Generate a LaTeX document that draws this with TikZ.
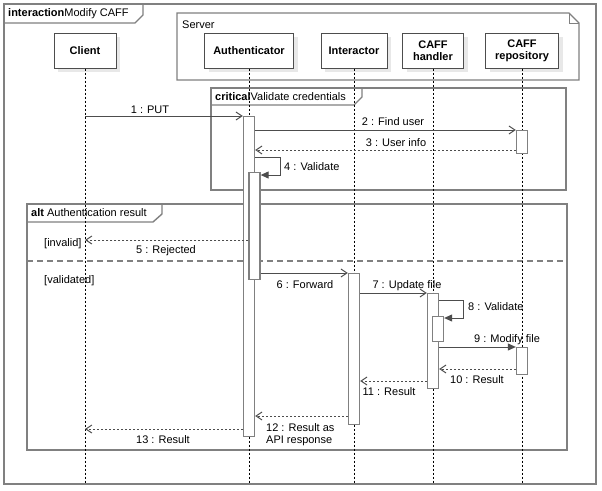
\documentclass[tikz,border=0pt]{standalone}
\usepackage{fontspec}
\setmainfont{Liberation Sans}
\usetikzlibrary{arrows.meta,shadows,calc}
\definecolor{framecol}{HTML}{808080}
\definecolor{linecol}{HTML}{4D4D4D}
\definecolor{shadowcol}{HTML}{E8E8E8}
\begin{document}
\begin{tikzpicture}[x=1pt,y=-1pt,
  every node/.style={font=\fontsize{11}{12}\selectfont, text=black},
  framebox/.style={draw=framecol, line width=1.4pt},
  head/.style={draw=linecol, line width=1pt, fill=white, align=center, inner sep=0pt,
    font=\fontsize{11}{12}\selectfont\bfseries,
    general shadow={fill=shadowcol, shadow xshift=4pt, shadow yshift=-4pt}},
  lifeline/.style={draw=black, line width=0.8pt, dash pattern=on 2pt off 2pt},
  act/.style={draw=framecol, line width=1.3pt, fill=white, minimum width=11pt, inner sep=0pt, anchor=north},
  msg/.style={draw=linecol, line width=1pt, -{Straight Barb[length=6pt,width=8pt]}},
  reply/.style={msg, dash pattern=on 2pt off 2pt},
  selfmsg/.style={draw=linecol, line width=1pt, -{Triangle[length=8pt,width=7pt]}},
  lbl/.style={inner sep=0pt},
]
\useasboundingbox (0,0) rectangle (602,490);
\fill[white] (0,0) rectangle (602,490);

% outer interaction frame
\draw[framebox] (4,4) rectangle (596,484);
\draw[framebox] (4,23) -- (135,23) -- (143,15) -- (143,4);
\node[lbl, anchor=west] (ttl) at (8,14) {\textbf{interaction}Modify CAFF};

% server box
\draw[framebox] (177,13) -- (569,13) -- (579,23) -- (579,80) -- (177,80) -- cycle;
\draw[framecol, line width=1pt] (569,13) -- (569,23) -- (579,23);
\node[lbl, anchor=west] (srv) at (182,25) {Server};

% lifeline heads
\node[head, minimum width=62pt, minimum height=35pt] (hC) at (85,50.5) {Client};
\node[head, minimum width=89pt, minimum height=35pt] (hA) at (249,50.5) {Authenticator};
\node[head, minimum width=66pt, minimum height=35pt] (hI) at (354,50.5) {Interactor};
\node[head, minimum width=61pt, minimum height=35pt] (hH) at (433,50.5) {CAFF\\handler};
\node[head, minimum width=73pt, minimum height=35pt] (hR) at (522,50.5) {CAFF\\repository};

% critical fragment
\draw[framebox] (211,88) rectangle (566,190);
\draw[framebox] (211,105) -- (354,105) -- (362,97) -- (362,88);
\node[lbl, anchor=west] (crit) at (215,97) {\textbf{critical}Validate credentials};

% alt fragment
\draw[framebox] (27,204) rectangle (567,450);
\draw[framebox] (27,222) -- (153,222) -- (162,214) -- (162,204);
\node[lbl, anchor=west] (altl) at (31,213) {\textbf{alt} Authentication result};
\draw[framecol, line width=1.4pt, dash pattern=on 6pt off 4pt] (27,261) -- (567,261);
\node[lbl, anchor=west] (g1) at (44,244) {[invalid]};
\node[lbl, anchor=west] (g2) at (44,281) {[validated]};

% lifelines
\coordinate (eC) at (85,484);
\coordinate (eA) at (249,484);
\coordinate (eI) at (354,484);
\coordinate (eH) at (433,484);
\coordinate (eR) at (522,484);
\draw[lifeline] (hC.south) -- (eC);
\draw[lifeline] (hA.south) -- (eA);
\draw[lifeline] (hI.south) -- (eI);
\draw[lifeline] (hH.south) -- (eH);
\draw[lifeline] (hR.south) -- (eR);

% activations
\node[act, minimum height=320pt] (aA1) at (249,116) {};
\node[act, minimum height=107pt] (aA2) at (254.5,172) {};
\node[act, minimum height=23pt] (aR1) at (522,130) {};
\node[act, minimum height=151pt] (aI) at (354,273) {};
\node[act, minimum height=95pt] (aH1) at (433,293) {};
\node[act, minimum height=25pt] (aH2) at (438,316) {};
\node[act, minimum height=27pt] (aR2) at (522,347) {};

% messages
\draw[msg] (hC.south |- aA1.north) -- (aA1.north west);
\node[lbl] (m1) at (150,110) {1 : PUT};

\draw[msg] (aA1.east |- aR1.north) -- (aR1.north west);
\node[lbl] (m2) at (393,122) {2 : Find user};

\draw[reply] (aR1.west |- 0,150) -- (aA1.east |- 0,150);
\node[lbl] (m3) at (396,143) {3 : User info};

\draw[selfmsg] (aA1.east |- 0,157) -- (280,157) -- (280,175) -- (aA2.east |- 0,175);
\node[lbl, anchor=west] (m4) at (284,167) {4 : Validate};

\draw[reply] (aA2.west |- 0,240) -- (hC.south |- 0,240);
\node[lbl] (m5) at (166,251) {5 : Rejected};

\draw[msg] (aA2.east |- aI.north) -- (aI.north west);
\node[lbl] (m6) at (305,285) {6 : Forward};

\draw[msg] (aI.east |- aH1.north) -- (aH1.north west);
\node[lbl] (m7) at (407,286) {7 : Update file};

\draw[selfmsg] (aH1.east |- 0,300) -- (463,300) -- (463,318) -- (aH2.east |- 0,318);
\node[lbl, anchor=west] (m8) at (468,307) {8 : Validate};

\draw[selfmsg] (aH1.east |- aR2.north) -- (aR2.north west);
\node[lbl] (m9) at (507,340) {9 : Modify file};

\draw[reply] (aR2.west |- 0,369) -- (aH1.east |- 0,369);
\node[lbl] (m10) at (477,380) {10 : Result};

\draw[reply] (aH1.west |- 0,381) -- (aI.east |- 0,381);
\node[lbl] (m11) at (389,392) {11 : Result};

\draw[reply] (aI.west |- 0,416) -- (aA1.east |- 0,416);
\node[lbl, anchor=north west, align=left] (m12) at (266,423) {12 : Result as\\API response};

\draw[reply] (aA1.west |- 0,429) -- (hC.south |- 0,429);
\node[lbl] (m13) at (163,440) {13 : Result};
\end{tikzpicture}
\end{document}
